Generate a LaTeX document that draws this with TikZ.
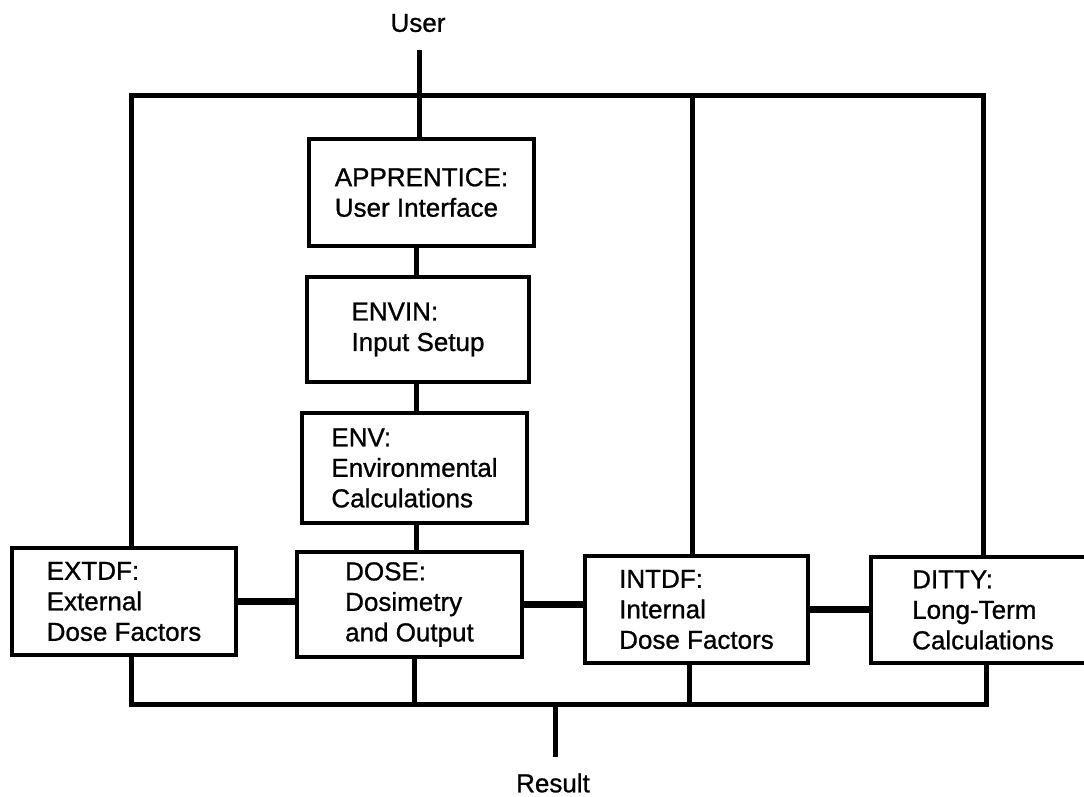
\documentclass[tikz,border=0pt]{standalone}
\usepackage{fontspec}
\setmainfont{Liberation Sans}[FakeBold=0.9]
\begin{document}
\begin{tikzpicture}[x=0.5pt,y=-0.5pt,
  mod/.style={draw, line width=2.3pt, align=left, inner sep=0pt, font=\fontsize{13}{15.25}\selectfont},
  wire/.style={line width=2.5pt},
  link/.style={line width=3.3pt},
  lbl/.style={font=\fontsize{13}{15.25}\selectfont, inner sep=0pt}]
\useasboundingbox (0,0) rectangle (1084,797);
\clip (0,0) rectangle (1084,797);
\fill[white] (0,0) rectangle (1084,797);

\node[mod, minimum width=112.5pt, minimum height=53.5pt] (app) at (421.5,192.5) {APPRENTICE:\\User Interface};
\node[mod, minimum width=111pt, minimum height=52.5pt] (envin) at (418,329.5) {ENVIN:\\Input Setup};
\node[mod, minimum width=112.5pt, minimum height=55pt] (env) at (414.5,468) {ENV:\\Environmental\\Calculations};
\node[mod, minimum width=112.5pt, minimum height=52.5pt] (dose) at (409.5,604.5) {DOSE:\\Dosimetry\\and Output};
\node[mod, minimum width=112pt, minimum height=53.5pt] (extdf) at (124,601.5) {EXTDF:\\External\\Dose Factors};
\node[mod, minimum width=111.5pt, minimum height=53.5pt] (intdf) at (696.5,609.5) {INTDF:\\Internal\\Dose Factors};
\node[mod, minimum width=112pt, minimum height=53pt] (ditty) at (983,610) {DITTY:\\Long-Term\\Calculations};

\node[lbl] (user) at (418,23) {User};
\node[lbl] (result) at (553,783) {Result};

\coordinate (utop) at (419,50);
\coordinate (tl) at (131,96);
\coordinate (tr) at (983,96);
\coordinate (ti) at (692,96);
\coordinate (col) at (416,0);
\coordinate (bl) at (131,704);
\coordinate (br) at (986,704);
\coordinate (bd) at (414,704);
\coordinate (bi) at (689,704);
\coordinate (rtop) at (555,704);
\coordinate (rbot) at (555,757);

\draw[wire] (utop) -- (utop |- app.north);
\draw[wire] (extdf.north -| tl) -- (tl) -- (tr) -- (ditty.north);
\draw[wire] (ti) -- (ti |- intdf.north);
\draw[wire] (col |- app.south) -- (col |- envin.north);
\draw[wire] (col |- envin.south) -- (col |- env.north);
\draw[wire] (col |- env.south) -- (col |- dose.north);

\draw[wire] (extdf.south -| bl) -- (bl) -- (br) -- (br |- ditty.south);
\draw[wire] (bd |- dose.south) -- (bd);
\draw[wire] (bi |- intdf.south) -- (bi);
\draw[wire] (rtop) -- (rbot);

\draw[link] (extdf.east) -- (extdf.east -| dose.west);
\draw[link] (dose.east) -- (dose.east -| intdf.west);
\draw[link] (intdf.east) -- (intdf.east -| ditty.west);
\end{tikzpicture}
\end{document}
